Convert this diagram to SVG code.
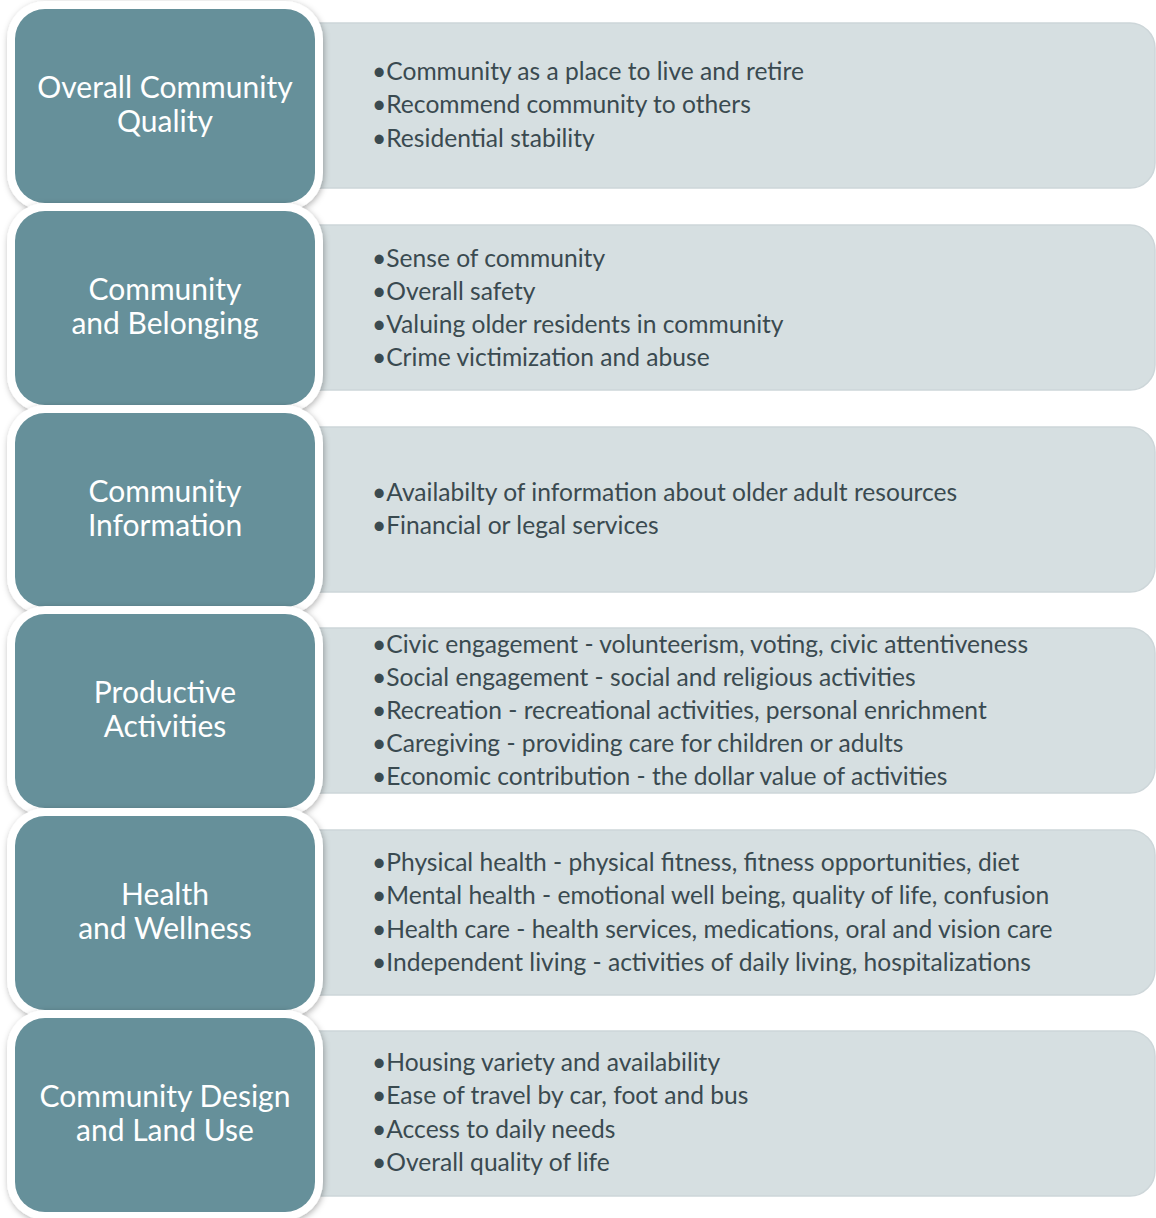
<svg xmlns="http://www.w3.org/2000/svg" width="1156" height="1218" viewBox="0 0 1156 1218">
<defs>
<filter id="sh" x="-10%" y="-10%" width="120%" height="120%">
<feDropShadow dx="1" dy="2" stdDeviation="3" flood-color="#000" flood-opacity="0.3"/>
</filter>
<style>
.panel{fill:#D6DFE1;stroke:#CDD6D9;stroke-width:1.5}
.frame{fill:#FFFFFF}
.tile{fill:#66909A}
.title{font-family:Lato,"Open Sans",sans-serif;font-size:30px;fill:#FFFFFF;text-anchor:middle}
.item{font-family:Lato,"Open Sans",sans-serif;font-size:24.6px;fill:#3A4A50}
</style>
</defs>
<g id="panels">
<rect class="panel" x="290" y="23" width="865" height="165" rx="25"/>
<rect class="panel" x="290" y="225" width="865" height="165" rx="25"/>
<rect class="panel" x="290" y="427" width="865" height="165" rx="25"/>
<rect class="panel" x="290" y="628" width="865" height="165" rx="25"/>
<rect class="panel" x="290" y="830" width="865" height="165" rx="25"/>
<rect class="panel" x="290" y="1031" width="865" height="165" rx="25"/>
</g>
<g id="connectors"></g>
<g id="node1">
<rect class="frame" filter="url(#sh)" x="7" y="1" width="316" height="210" rx="38"/>
<rect class="tile" x="15" y="9" width="300" height="194" rx="30"/>
<text class="title" x="165" y="98">Overall Community</text>
<text class="title" x="165" y="132">Quality</text>
</g>
<g id="items1">
<text class="item" x="372" y="80">•Community as a place to live and retire</text>
<text class="item" x="372" y="113">•Recommend community to others</text>
<text class="item" x="372" y="147">•Residential stability</text>
</g>
<g id="node2">
<rect class="frame" filter="url(#sh)" x="7" y="203" width="316" height="210" rx="38"/>
<rect class="tile" x="15" y="211" width="300" height="194" rx="30"/>
<text class="title" x="165" y="300">Community</text>
<text class="title" x="165" y="334">and Belonging</text>
</g>
<g id="items2">
<text class="item" x="372" y="267">•Sense of community</text>
<text class="item" x="372" y="300">•Overall safety</text>
<text class="item" x="372" y="333">•Valuing older residents in community</text>
<text class="item" x="372" y="366">•Crime victimization and abuse</text>
</g>
<g id="node3">
<rect class="frame" filter="url(#sh)" x="7" y="405" width="316" height="210" rx="38"/>
<rect class="tile" x="15" y="413" width="300" height="194" rx="30"/>
<text class="title" x="165" y="502">Community</text>
<text class="title" x="165" y="536">Information</text>
</g>
<g id="items3">
<text class="item" x="372" y="501">•Availabilty of information about older adult resources</text>
<text class="item" x="372" y="534">•Financial or legal services</text>
</g>
<g id="node4">
<rect class="frame" filter="url(#sh)" x="7" y="606" width="316" height="210" rx="38"/>
<rect class="tile" x="15" y="614" width="300" height="194" rx="30"/>
<text class="title" x="165" y="703">Productive</text>
<text class="title" x="165" y="737">Activities</text>
</g>
<g id="items4">
<text class="item" x="372" y="653">•Civic engagement - volunteerism, voting, civic attentiveness</text>
<text class="item" x="372" y="686">•Social engagement - social and religious activities</text>
<text class="item" x="372" y="719">•Recreation - recreational activities, personal enrichment</text>
<text class="item" x="372" y="752">•Caregiving - providing care for children or adults</text>
<text class="item" x="372" y="785">•Economic contribution - the dollar value of activities</text>
</g>
<g id="node5">
<rect class="frame" filter="url(#sh)" x="7" y="808" width="316" height="210" rx="38"/>
<rect class="tile" x="15" y="816" width="300" height="194" rx="30"/>
<text class="title" x="165" y="905">Health</text>
<text class="title" x="165" y="939">and Wellness</text>
</g>
<g id="items5">
<text class="item" x="372" y="871">•Physical health - physical fitness, fitness opportunities, diet</text>
<text class="item" x="372" y="904">•Mental health - emotional well being, quality of life, confusion</text>
<text class="item" x="372" y="938">•Health care - health services, medications, oral and vision care</text>
<text class="item" x="372" y="971">•Independent living - activities of daily living, hospitalizations</text>
</g>
<g id="node6">
<rect class="frame" filter="url(#sh)" x="7" y="1010" width="316" height="210" rx="38"/>
<rect class="tile" x="15" y="1018" width="300" height="194" rx="30"/>
<text class="title" x="165" y="1107">Community Design</text>
<text class="title" x="165" y="1141">and Land Use</text>
</g>
<g id="items6">
<text class="item" x="372" y="1071">•Housing variety and availability</text>
<text class="item" x="372" y="1104">•Ease of travel by car, foot and bus</text>
<text class="item" x="372" y="1138">•Access to daily needs</text>
<text class="item" x="372" y="1171">•Overall quality of life</text>
</g>
</svg>
